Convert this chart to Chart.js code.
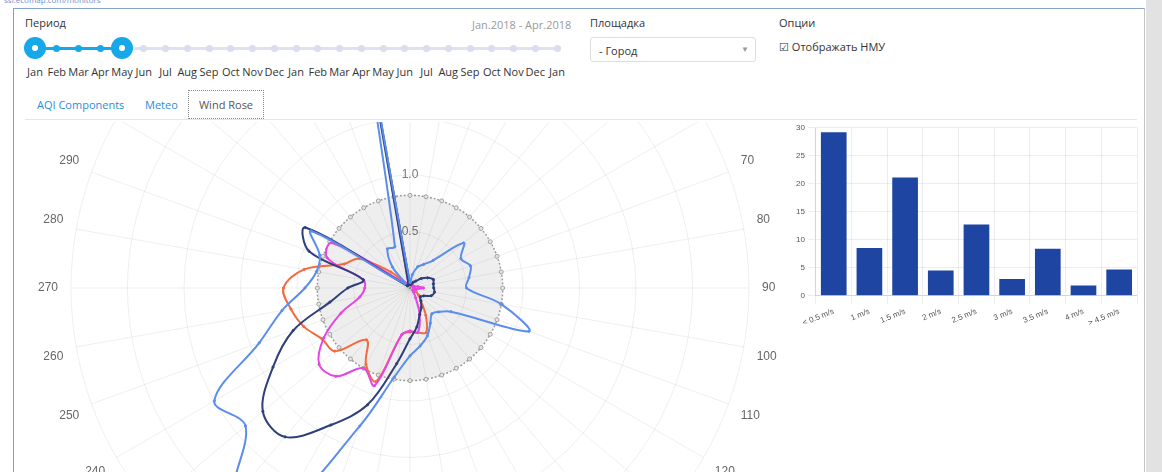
<!DOCTYPE html>
<html>
<head>
<meta charset="utf-8">
<script src="https://cdn.jsdelivr.net/npm/chart.js@4.4.0/dist/chart.umd.min.js"></script>
<style>
body{margin:0;width:1162px;height:472px;overflow:hidden;background:#fff;font-family:"Open Sans",Arial,sans-serif;font-size:11px;color:#333;position:relative}
.abs{position:absolute;white-space:nowrap}
.frame{position:absolute;left:13px;top:8px;width:1130px;height:480px;border-left:1px solid #9a9a9a;border-top:1px solid #86a6c8;border-right:1px solid #c4c4c4}
.scroll{position:absolute;left:1146px;top:0;width:16px;height:472px;background:#e2e2e2}
.track{position:absolute;top:47px;height:3px;background:#dfe1f1}
.dot{position:absolute;width:7px;height:7px;border-radius:50%;margin-left:-3.5px;top:45px;background:#dadcef}
.handle{position:absolute;width:22px;height:22px;border-radius:50%;margin-left:-11px;top:37px;background:#16a8e8}
.handle:after{content:"";position:absolute;left:8px;top:8px;width:6px;height:6px;border-radius:50%;background:#fff}
.month{position:absolute;top:64px;width:30px;margin-left:-15px;text-align:center}
.select{position:absolute;left:590px;top:37px;width:166px;height:25px;border:1px solid #ddd;border-radius:3px;box-sizing:border-box}
.tab{position:absolute;top:97px;color:#2b8ed8}
.tabbox{position:absolute;left:188px;top:90px;width:76px;height:29px;box-sizing:border-box;border:1px dotted #888;text-align:center;line-height:27px;color:#555}
.rule{position:absolute;left:25px;top:119px;width:1112px;height:1px;background:#e6e6e6}
#roseBox{position:absolute;left:14px;top:122px;width:776px;height:350px;overflow:hidden}
#rose{position:absolute;left:22px;top:-206px}
#speedBox{position:absolute;left:793px;top:120px;width:348px;height:211px}
</style>
</head>
<body>
<div class="abs" style="left:4px;top:-6px;font-size:8px;color:#6a8fd0">ssl.ecomap.com/monitors</div>
<div class="frame"></div>
<div class="scroll"></div>

<div class="abs" style="left:25px;top:15px">Период</div>
<div class="abs" style="left:472px;top:17px;color:#9a9a9a">Jan.2018 - Apr.2018</div>
<div id="slider"></div>

<div class="abs" style="left:590px;top:15px">Площадка</div>
<div class="select"><span class="abs" style="left:8px;top:5px">- Город</span><span class="abs" style="left:150px;top:5px;color:#999;font-size:8px">&#9660;</span></div>
<div class="abs" style="left:779px;top:15px">Опции</div>
<div class="abs" style="left:779px;top:39px">&#9745; Отображать НМУ</div>

<div class="tab" style="left:37px">AQI Components</div>
<div class="tab" style="left:145px">Meteo</div>
<div class="tabbox">Wind Rose</div>
<div class="rule"></div>

<div id="roseBox"><canvas id="rose" width="744" height="744" style="width:744px;height:744px"></canvas></div>
<div id="speedBox"><canvas id="speed"></canvas></div>

<script>
// period slider
const months = ['Jan','Feb','Mar','Apr','May','Jun','Jul','Aug','Sep','Oct','Nov','Dec',
  'Jan','Feb','Mar','Apr','May','Jun','Jul','Aug','Sep','Oct','Nov','Dec','Jan'];
const selFrom = 0, selTo = 4;

// wind rose, direction in degrees
const directions = ['0','10','20','30','40','50','60','70','80','90','100','110',
  '120','130','140','150','160','170','180','190','200','210','220','230',
  '240','250','260','270','280','290','300','310','320','330','340','350'];
const windLight = [0.05,0.12,0.2,0.24,0.32,0.62,0.52,0.57,0.53,0.5,0.82,1.12,
  0.42,0.33,0.3,0.36,0.45,0.52,0.6,0.8,1.3,2.2,2.4,1.9,
  2.0,1.42,1.15,0.93,0.84,0.85,1.01,0.06,0.24,0.4,0.39,2.6];
const windNavy = [0.03,0.03,0.04,0.06,0.08,0.13,0.18,0.22,0.21,0.21,0.22,0.2,
  0.14,0.12,0.15,0.2,0.25,0.35,0.45,0.68,1.1,1.4,1.72,1.7,
  1.4,1.1,0.72,0.55,0.42,0.95,1.07,0.03,0.03,0.03,0.04,2.5];
const windOrange = [0.03,0.03,0.03,0.03,0.03,0.03,0.03,0.03,0.03,0.04,0.04,0.05,
  0.06,0.1,0.15,0.28,0.42,0.4,0.39,0.42,0.88,0.78,0.6,0.87,
  0.9,1.0,1.07,1.12,0.95,0.62,0.52,0.22,0.06,0.04,0.03,0.03];
const windMagenta = [0.03,0.03,0.03,0.03,0.03,0.03,0.03,0.04,0.07,0.12,0.06,0.04,
  0.03,0.03,0.05,0.1,0.25,0.4,0.38,0.42,0.92,0.82,1.02,1.05,
  0.88,0.65,0.45,0.4,0.42,0.78,0.8,0.08,0.05,0.04,0.04,0.88];
const nmuLevel = [0.82,0.82,0.82,0.82,0.82,0.82,0.82,0.82,0.82,0.82,0.82,0.82,
  0.82,0.82,0.82,0.82,0.82,0.82,0.82,0.82,0.82,0.82,0.82,0.82,
  0.82,0.82,0.82,0.82,0.82,0.82,0.82,0.82,0.82,0.82,0.82,0.82];

// wind speed distribution, %
const speedLabels = ['< 0.5 m/s','1 m/s','1.5 m/s','2 m/s','2.5 m/s','3 m/s','3.5 m/s','4 m/s','> 4.5 m/s'];
const speedShare = [29.2,8.5,21.1,4.5,12.7,3.0,8.4,1.8,4.7];

let slider = document.getElementById("slider");
let x0 = 35, step = 21.75;
let html = '<div class="track" style="left:' + x0 + 'px;width:' + (step * (months.length - 1)) + 'px"></div>';
html += '<div class="track" style="background:#16a8e8;left:' + (x0 + step * selFrom) + 'px;width:' + (step * (selTo - selFrom)) + 'px"></div>';
months.forEach(function (m, i) {
	let x = x0 + step * i;
	let sel = i >= selFrom && i <= selTo;
	html += '<div class="dot" style="left:' + x + 'px;' + (sel ? 'background:#16a8e8' : '') + '"></div>';
	html += '<div class="month" style="left:' + x + 'px">' + m + '</div>';
});
html += '<div class="handle" style="left:' + (x0 + step * selFrom) + 'px"></div>';
html += '<div class="handle" style="left:' + (x0 + step * selTo) + 'px"></div>';
slider.innerHTML = html;

function series(data, color, order) {
	return {
		data: data,
		borderColor: color,
		backgroundColor: color,
		pointBackgroundColor: color,
		pointBorderColor: color,
		borderWidth: 2,
		pointRadius: 1.1,
		pointBorderWidth: 1,
		fill: false,
		tension: 0.35,
		order: order
	};
}

document.addEventListener("DOMContentLoaded", function () {
	new Chart(document.getElementById('rose'), {
		type: 'radar',
		data: {
			labels: directions,
			datasets: [
				series(windLight, '#5b8ded', 1),
				series(windNavy, '#2e3f7c', 2),
				series(windMagenta, '#e546e2', 3),
				series(windOrange, '#f36a3e', 4),
				{
					data: nmuLevel,
					borderColor: '#9a9a9a',
					borderDash: [2, 2],
					borderWidth: 1.5,
					backgroundColor: 'rgba(0,0,0,0.065)',
					fill: true,
					tension: 0.4,
					pointRadius: 2,
					pointBorderWidth: 1,
					pointBackgroundColor: '#e6e6e6',
					pointBorderColor: '#a0a0a0',
					order: 10
				}
			]
		},
		options: {
			responsive: false,
			animation: false,
			plugins: { legend: { display: false }, tooltip: { enabled: false } },
			scales: {
				r: {
					min: 0,
					max: 3,
					ticks: { stepSize: 0.5, showLabelBackdrop: false, color: '#777', font: { size: 12, family: 'Arial' } },
					grid: { color: 'rgba(0,0,0,0.065)', circular: true },
					angleLines: { color: 'rgba(0,0,0,0.065)' },
					pointLabels: { color: '#666', font: { size: 12, family: 'Arial' }, padding: 5 }
				}
			}
		}
	});

	new Chart(document.getElementById('speed'), {
		type: 'bar',
		data: {
			labels: speedLabels,
			datasets: [{ data: speedShare, backgroundColor: '#1f45a3' }]
		},
		options: {
			responsive: true,
			maintainAspectRatio: false,
			animation: false,
			layout: { padding: { top: 4, right: 4 } },
			plugins: { legend: { display: false }, tooltip: { enabled: false } },
			scales: {
				x: {
					grid: { color: 'rgba(0,0,0,0.07)' },
					ticks: { minRotation: 22, maxRotation: 22, color: '#555', font: { size: 8, family: 'Arial' } }
				},
				y: {
					min: 0,
					max: 30,
					grid: { color: 'rgba(0,0,0,0.07)' },
					ticks: { stepSize: 5, color: '#555', font: { size: 8, family: 'Arial' } }
				}
			}
		}
	});
});
</script>
</body>
</html>
